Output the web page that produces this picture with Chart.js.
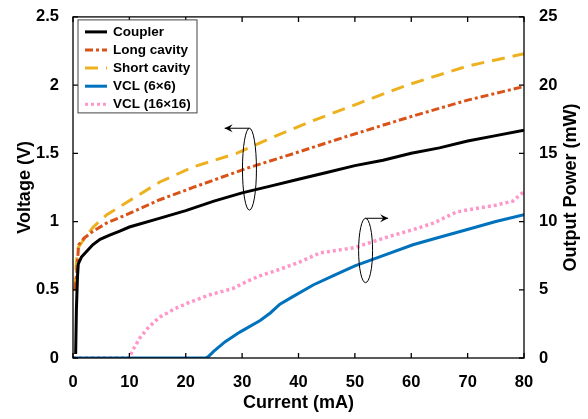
<!DOCTYPE html>
<html>
<head>
<meta charset="utf-8">
<script src="https://cdn.jsdelivr.net/npm/chart.js@4.4.1/dist/chart.umd.min.js"></script>
<style>
  html, body { margin: 0; padding: 0; background: #fff; }
  #wrap { width: 588px; height: 419px; }
</style>
</head>
<body>
<div id="wrap"><canvas id="ivChart" width="588" height="419"></canvas></div>
<script>
// Voltage curves (left axis, V) vs current (mA)
const couplerI = [0.47, 0.6, 0.8, 0.94, 1.5, 2.4, 3.5, 4.8, 6.5, 8.3, 10, 15, 20, 25, 30, 35, 40, 45, 50, 55, 60, 65, 70, 75, 80];
const couplerV = [0.03, 0.35, 0.6, 0.69, 0.74, 0.78, 0.83, 0.87, 0.90, 0.93, 0.96, 1.02, 1.08, 1.15, 1.21, 1.26, 1.31, 1.36, 1.41, 1.45, 1.50, 1.54, 1.59, 1.63, 1.67];

const longI = [0.35, 0.65, 1.0, 2, 3.6, 6, 9.5, 15.4, 21.3, 30.8, 40, 49, 60, 70, 80];
const longV = [0.50, 0.62, 0.83, 0.88, 0.93, 0.99, 1.05, 1.16, 1.25, 1.39, 1.51, 1.63, 1.77, 1.89, 1.99];

const shortI = [0.35, 0.6, 0.94, 2.1, 3.6, 6, 9.5, 15.4, 21.3, 29, 35, 42.6, 49, 56, 60, 70, 80];
const shortV = [0.49, 0.70, 0.81, 0.88, 0.96, 1.05, 1.14, 1.29, 1.40, 1.50, 1.61, 1.74, 1.84, 1.95, 2.01, 2.14, 2.23];

// Output power curves (right axis, mW)
const vcl6I = [0, 23.5, 24, 25, 27, 29.6, 33.2, 35, 36.7, 39, 42.6, 46, 50, 55, 60.3, 65, 69.8, 75, 80];
const vcl6P = [0, 0, 0.1, 0.5, 1.2, 1.9, 2.75, 3.3, 3.95, 4.5, 5.35, 6.0, 6.75, 7.5, 8.3, 8.85, 9.4, 10.0, 10.5];

const vcl16I = [0, 10, 10.5, 11.9, 13.5, 15.4, 18, 20.2, 24, 28.4, 30.8, 33, 36.7, 40, 43.8, 47, 50, 53, 56, 60.3, 64, 68, 72, 75, 78, 80];
const vcl16P = [0, 0, 0.5, 1.5, 2.3, 3.0, 3.6, 4.0, 4.6, 5.1, 5.6, 6.0, 6.5, 7.0, 7.7, 7.9, 8.1, 8.5, 8.9, 9.4, 9.9, 10.7, 11.0, 11.2, 11.5, 12.2];

const seriesLabels = ['Coupler', 'Long cavity', 'Short cavity', 'VCL (6\u00d76)', 'VCL (16\u00d716)'];
const voltTicks = [0, 0.5, 1, 1.5, 2, 2.5];
const powerTicks = [0, 5, 10, 15, 20, 25];
const currentTicks = [0, 10, 20, 30, 40, 50, 60, 70, 80];
const powerTitle = 'Output Power (mW)';

const FONT = "'Liberation Sans', Arial, sans-serif";

function pts(xs, ys) {
    return xs.map((x, i) => ({x: x, y: ys[i]}));
}

// frame, inward ticks, legend box, right title and the two ellipse/arrow markers
const decor = {
    id: 'decor',
    afterDraw(chart) {
        const ctx = chart.ctx;
        const a = chart.chartArea;
        const sx = chart.scales.x, sy = chart.scales.y, sp = chart.scales.y2;
        ctx.save();
        ctx.strokeStyle = '#000';
        ctx.lineWidth = 1.3;
        ctx.strokeRect(a.left, a.top, a.right - a.left, a.bottom - a.top);
        ctx.beginPath();
        const tl = 5;
        currentTicks.forEach(v => {
            const px = sx.getPixelForValue(v);
            ctx.moveTo(px, a.bottom); ctx.lineTo(px, a.bottom - tl);
            ctx.moveTo(px, a.top); ctx.lineTo(px, a.top + tl);
        });
        voltTicks.forEach(v => {
            const py = sy.getPixelForValue(v);
            ctx.moveTo(a.left, py); ctx.lineTo(a.left + tl, py);
        });
        powerTicks.forEach(v => {
            const py = sp.getPixelForValue(v);
            ctx.moveTo(a.right, py); ctx.lineTo(a.right - tl, py);
        });
        ctx.stroke();

        // right axis title, read bottom to top like the left one
        ctx.save();
        ctx.translate(571, (a.top + a.bottom) / 2);
        ctx.rotate(-Math.PI / 2);
        ctx.font = 'bold 18px ' + FONT;
        ctx.fillStyle = '#000';
        ctx.textAlign = 'center';
        ctx.textBaseline = 'middle';
        ctx.fillText(powerTitle, 0, 0);
        ctx.restore();

        // ellipse + arrow markers
        ctx.lineWidth = 1;
        const marker = (cx, cy, rxData, ryData, yScale, arrowTo) => {
            const px = sx.getPixelForValue(cx), py = yScale.getPixelForValue(cy);
            const rx = Math.abs(sx.getPixelForValue(cx + rxData) - px);
            const ry = Math.abs(yScale.getPixelForValue(cy + ryData) - py);
            ctx.beginPath();
            ctx.ellipse(px, py, rx, ry, 0, 0, Math.PI * 2);
            ctx.stroke();
            const ax = sx.getPixelForValue(arrowTo);
            const top = py - ry;
            ctx.beginPath();
            ctx.moveTo(px, top); ctx.lineTo(ax, top);
            ctx.stroke();
            const dir = ax < px ? 1 : -1;
            ctx.beginPath();
            ctx.moveTo(ax, top);
            ctx.lineTo(ax + dir * 8, top - 4);
            ctx.lineTo(ax + dir * 5, top);
            ctx.lineTo(ax + dir * 8, top + 4);
            ctx.closePath();
            ctx.fillStyle = '#000';
            ctx.fill();
        };
        marker(31.3, 1.384, 1.24, 0.30, sy, 26.9);
        marker(51.9, 7.88, 1.24, 2.36, sp, 55.9);

        // legend
        const lx = a.left + 5, ly = a.top + 3, lw = 119, lh = 93;
        ctx.fillStyle = '#fff';
        ctx.fillRect(lx, ly, lw, lh);
        ctx.strokeStyle = '#444';
        ctx.lineWidth = 1;
        ctx.strokeRect(lx, ly, lw, lh);
        ctx.font = 'bold 13.5px ' + FONT;
        ctx.textBaseline = 'middle';
        chart.data.datasets.forEach((ds, i) => {
            const yy = ly + 12 + i * 18.1;
            ctx.save();
            ctx.strokeStyle = ds.borderColor;
            ctx.lineWidth = 3;
            ctx.setLineDash(ds.borderDash || []);
            ctx.beginPath();
            ctx.moveTo(lx + 7, yy); ctx.lineTo(lx + 29, yy);
            ctx.stroke();
            ctx.restore();
            ctx.fillStyle = '#000';
            ctx.fillText(ds.label, lx + 35, yy);
        });
        ctx.restore();
    }
};

const ctx = document.getElementById('ivChart').getContext('2d');
const ivChart = new Chart(ctx, {
    type: 'line',
    plugins: [decor],
    data: {
        datasets: [
            {
                label: seriesLabels[0],
                data: pts(couplerI, couplerV),
                yAxisID: 'y',
                borderColor: '#000000',
                borderWidth: 3
            },
            {
                label: seriesLabels[1],
                data: pts(longI, longV),
                yAxisID: 'y',
                borderColor: '#D95319',
                borderWidth: 3,
                borderDash: [8, 3, 3, 3]
            },
            {
                label: seriesLabels[2],
                data: pts(shortI, shortV),
                yAxisID: 'y',
                borderColor: '#EDB120',
                borderWidth: 3,
                borderDash: [13, 8]
            },
            {
                label: seriesLabels[3],
                data: pts(vcl6I, vcl6P),
                yAxisID: 'y2',
                borderColor: '#0072BD',
                borderWidth: 3
            },
            {
                label: seriesLabels[4],
                data: pts(vcl16I, vcl16P),
                yAxisID: 'y2',
                borderColor: '#FF96C8',
                borderWidth: 3.5,
                borderDash: [3, 3]
            }
        ]
    },
    options: {
        responsive: false,
        animation: false,
        layout: {
            padding: {top: 13, left: 0, right: 0, bottom: 0}
        },
        elements: {
            point: {radius: 0},
            line: {tension: 0, fill: false}
        },
        plugins: {
            legend: {display: false},
            tooltip: {enabled: false}
        },
        scales: {
            x: {
                type: 'linear',
                min: 0,
                max: 80,
                afterBuildTicks: (s) => { s.ticks = currentTicks.map(v => ({value: v})); },
                afterFit: (s) => { s.height = 61; },
                grid: {display: false},
                border: {display: false},
                ticks: {
                    color: '#000',
                    padding: 7,
                    maxRotation: 0,
                    callback: (v) => String(v),
                    font: {family: FONT, size: 16.5, weight: 'bold'}
                },
                title: {
                    display: true,
                    text: 'Current (mA)',
                    color: '#000',
                    padding: {top: 0, bottom: 5},
                    font: {family: FONT, size: 18, weight: 'bold'}
                }
            },
            y: {
                type: 'linear',
                position: 'left',
                min: 0,
                max: 2.5,
                afterBuildTicks: (s) => { s.ticks = voltTicks.map(v => ({value: v})); },
                afterFit: (s) => { s.width = 73; },
                grid: {display: false},
                border: {display: false},
                ticks: {
                    color: '#000',
                    padding: 6,
                    callback: (v) => String(v),
                    font: {family: FONT, size: 16.5, weight: 'bold'}
                },
                title: {
                    display: true,
                    text: 'Voltage (V)',
                    color: '#000',
                    padding: {top: 14, bottom: 0},
                    font: {family: FONT, size: 18, weight: 'bold'}
                }
            },
            y2: {
                type: 'linear',
                position: 'right',
                min: 0,
                max: 25,
                afterBuildTicks: (s) => { s.ticks = powerTicks.map(v => ({value: v})); },
                afterFit: (s) => { s.width = 64; },
                grid: {display: false},
                border: {display: false},
                ticks: {
                    color: '#000',
                    padding: 7,
                    callback: (v) => String(v),
                    font: {family: FONT, size: 16.5, weight: 'bold'}
                },
                title: {display: false}
            }
        }
    }
});
</script>
</body>
</html>
